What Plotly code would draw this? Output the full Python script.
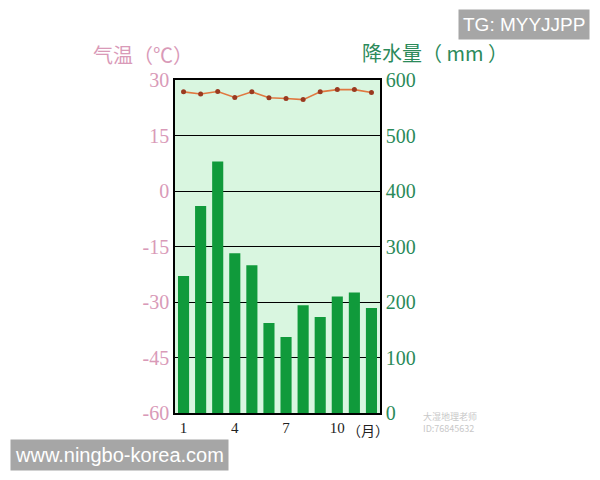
import plotly.graph_objects as go

months = list(range(1, 13))
precip = [247, 373, 453, 288, 266, 162, 137, 194, 173, 210, 217, 189]
temp = [26.8, 26.2, 26.9, 25.3, 26.8, 25.2, 25.0, 24.7, 26.8, 27.4, 27.4, 26.6]
temp_ticks = [-60, -45, -30, -15, 0, 15, 30]
temp_labels = ["-60", "-45", "-30", "-15", "0", "15", "30"]
precip_ticks = [0, 100, 200, 300, 400, 500, 600]
x_ticks = [1, 4, 7, 10]

serif = "Liberation Serif"
cjk = "Noto Sans CJK SC"
pink = "#d99ab8"
green_txt = "#2b8a5a"

fig = go.Figure()
fig.add_trace(go.Bar(x=months, y=precip, marker=dict(color="#109a3b", line=dict(width=0)),
                     width=0.65, yaxis="y"))
fig.add_trace(go.Scatter(x=months, y=temp, mode="lines+markers", yaxis="y2",
                         line=dict(color="#e07840", width=1.6),
                         marker=dict(color="#9a3a20", size=5)))

fig.update_layout(
    width=592, height=472,
    margin=dict(l=167, r=220, t=72, b=67),
    paper_bgcolor="white", plot_bgcolor="#d9f6e0",
    showlegend=False,
    xaxis=dict(range=[0.5, 12.5], tickvals=x_ticks, ticktext=[str(v) for v in x_ticks],
               tickfont=dict(family=serif, size=15, color="#222"), showgrid=False,
               showline=True, linecolor="black", linewidth=1.5, mirror=True,
               ticks="", zeroline=False),
    yaxis=dict(side="right", range=[0, 600], tickvals=precip_ticks,
               tickfont=dict(family=serif, size=20, color=green_txt),
               showgrid=True, gridcolor="black", gridwidth=1.2,
               showline=True, linecolor="black", linewidth=1.5,
               ticks="", zeroline=False),
    yaxis2=dict(side="left", overlaying="y", range=[-60, 30], tickvals=temp_ticks,
                ticktext=temp_labels,
                tickfont=dict(family=serif, size=20, color=pink),
                showgrid=False, showline=True, linecolor="black", linewidth=1.5,
                ticks="", zeroline=False),
    annotations=[
        dict(text="气温（℃）", xref="paper", yref="paper", x=-0.41, y=1.078,
             xanchor="left", yanchor="middle", showarrow=False,
             font=dict(family=cjk, size=20, color=pink)),
        dict(text="降水量（ mm ）", xref="paper", yref="paper", x=0.9, y=1.082,
             xanchor="left", yanchor="middle", showarrow=False,
             font=dict(family=cjk, size=20, color=green_txt)),
        dict(text="（月）", xref="x", yref="paper", x=10.45, y=-0.015,
             xanchor="left", yanchor="top", showarrow=False,
             font=dict(family=cjk, size=14, color="#222")),
        dict(text="大湿地理老师<br>ID:76845632", xref="paper", yref="paper", x=1.2, y=0.015,
             xanchor="left", yanchor="top", showarrow=False, align="left",
             font=dict(family=cjk, size=9, color="#c8c8c8")),
        dict(text="TG: MYYJJPP", xref="paper", yref="paper", x=2.024, y=1.168,
             xanchor="right", yanchor="middle", showarrow=False,
             font=dict(family="Liberation Sans", size=19, color="white"),
             bgcolor="#a6a6a6", borderpad=4),
        dict(text="www.ningbo-korea.com", xref="paper", yref="paper", x=-0.805, y=-0.126,
             xanchor="left", yanchor="middle", showarrow=False,
             font=dict(family="Liberation Sans", size=20, color="white"),
             bgcolor="#a6a6a6", borderpad=4),
    ],
)

fig.write_html("out.html")
